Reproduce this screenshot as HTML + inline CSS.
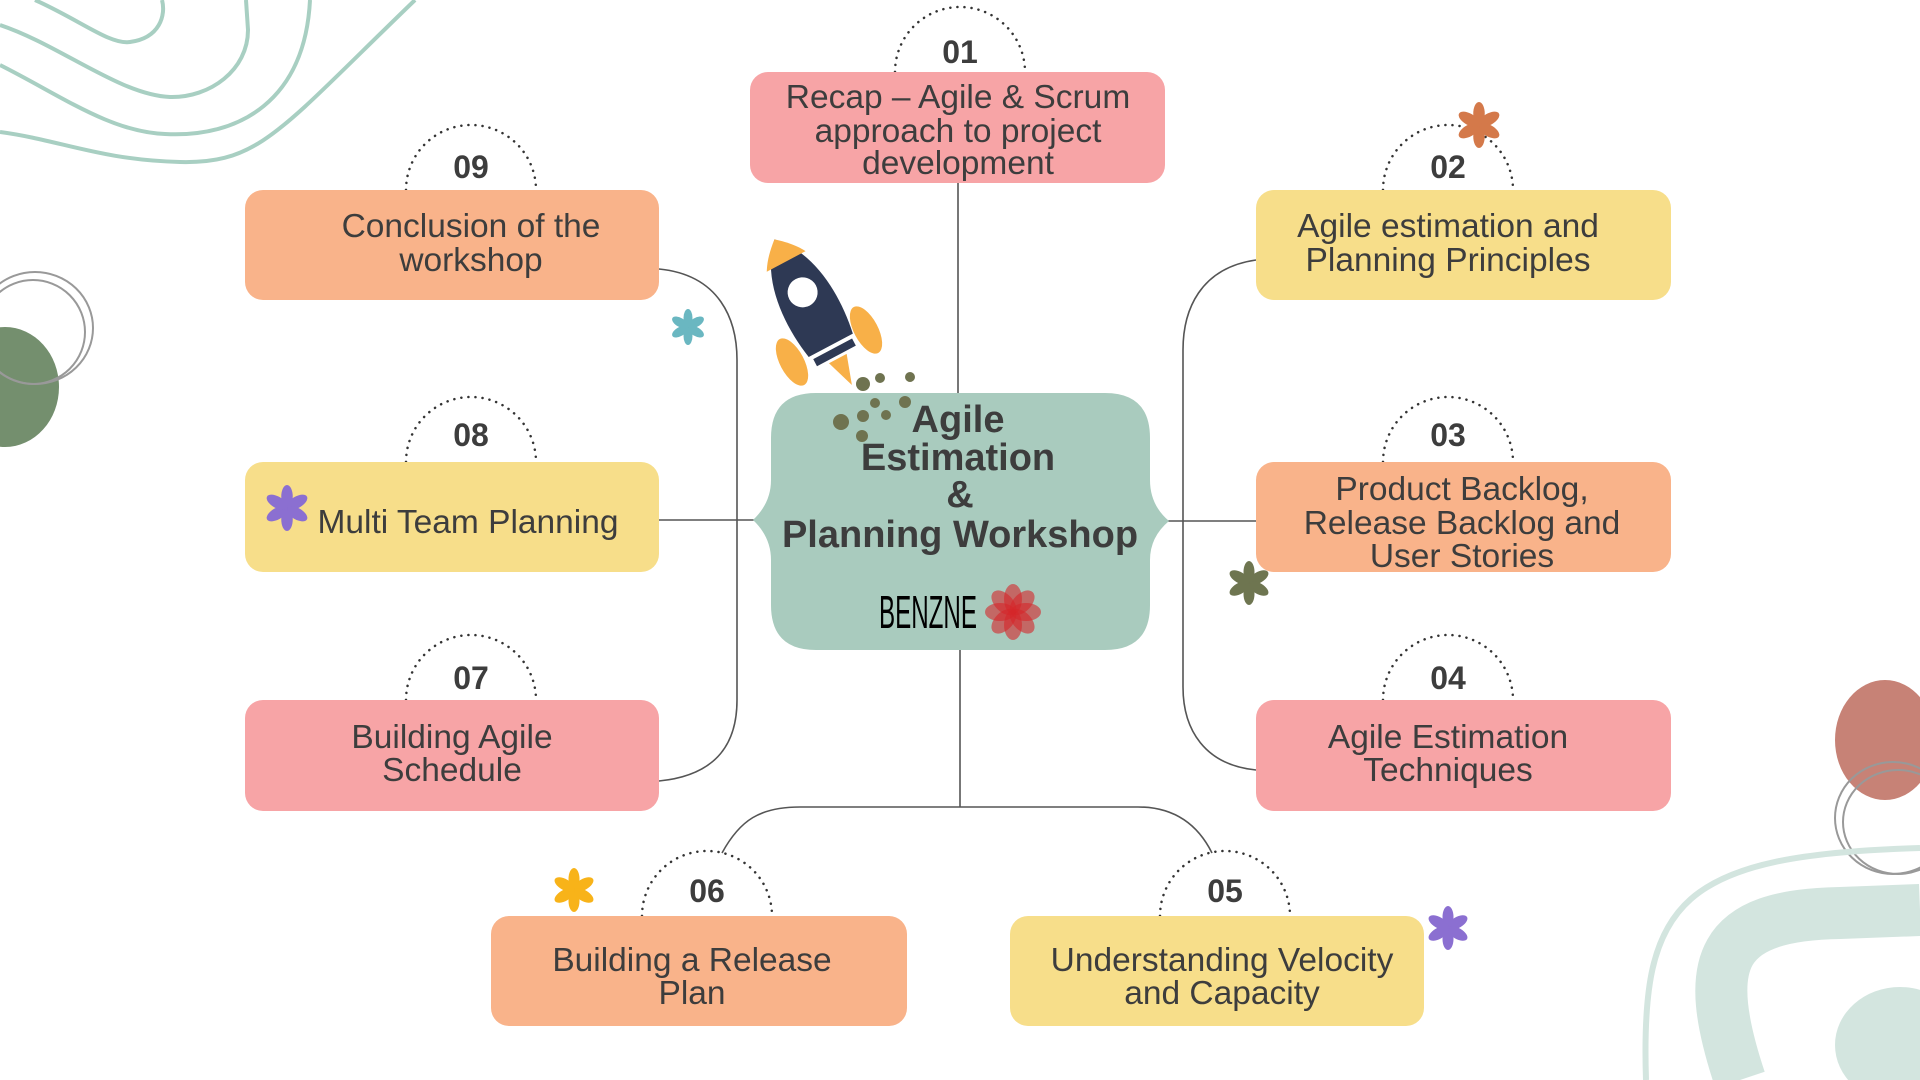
<!DOCTYPE html>
<html><head><meta charset="utf-8"><style>
html,body{margin:0;padding:0;background:#fff;}
svg{display:block;}
text{font-family:"Liberation Sans",sans-serif;fill:#3d3d3d;}
.t{font-size:33.5px;text-anchor:middle;}
.n{font-size:32px;font-weight:bold;text-anchor:middle;}
.c{font-size:38px;font-weight:bold;text-anchor:middle;}
</style></head><body>
<svg width="1920" height="1080" viewBox="0 0 1920 1080" xmlns="http://www.w3.org/2000/svg">
<defs>
<symbol id="fl" viewBox="-20 -20 40 40">
<g><ellipse cx="0" cy="-10" rx="5" ry="10"/><ellipse cx="0" cy="-10" rx="5" ry="10" transform="rotate(60)"/><ellipse cx="0" cy="-10" rx="5" ry="10" transform="rotate(120)"/><ellipse cx="0" cy="-10" rx="5" ry="10" transform="rotate(180)"/><ellipse cx="0" cy="-10" rx="5" ry="10" transform="rotate(240)"/><ellipse cx="0" cy="-10" rx="5" ry="10" transform="rotate(300)"/></g>
</symbol>
</defs>
<g fill="none" stroke="#a8cfc2" stroke-width="4">
<path d="M35 0 C80 20 110 45 130 42 C160 38 166 15 162 0"/>
<path d="M0 25 C60 45 120 95 170 97 C210 98 248 70 248 30 L246 0"/>
<path d="M0 65 C60 95 110 132 165 134 C240 138 305 100 310 0"/>
<path d="M0 132 C60 140 100 160 180 162 C260 164 280 130 415 0"/>
</g>
<ellipse cx="5" cy="387" rx="54" ry="60" fill="#748f6e"/>
<g fill="none" stroke="#999" stroke-width="2">
<ellipse cx="35" cy="328" rx="58" ry="56"/><ellipse cx="33" cy="332" rx="52" ry="52"/>
</g>
<ellipse cx="1885" cy="740" rx="50" ry="60" fill="#c78276"/>
<g fill="none" stroke="#999" stroke-width="2">
<ellipse cx="1893" cy="818" rx="58" ry="56"/><ellipse cx="1898" cy="822" rx="55" ry="52"/>
</g>
<path d="M1646 1080 C1640 900 1680 855 1920 848" fill="none" stroke="#d3e5df" stroke-width="6"/>
<path d="M1740 1080 C1700 960 1720 915 1840 913 L1920 910" fill="none" stroke="#d3e5df" stroke-width="52"/>
<ellipse cx="1900" cy="1045" rx="65" ry="58" fill="#d3e5df"/>

<g fill="none" stroke="#555" stroke-width="1.6">
<path d="M659 269 C720 275 737 320 737 360 V700 C737 740 720 775 659 781"/>
<path d="M659 520 H755"/>
<path d="M1256 260 C1200 268 1183 310 1183 350 V687 C1183 730 1205 765 1256 770"/>
<path d="M1167 521 H1256"/>
<path d="M958 182 V393"/>
<path d="M960 650 V807"/>
<path d="M722 853 C740 820 760 807 800 807 H1138 C1175 807 1198 825 1212 853"/>
</g>

<g fill="none" stroke="#333" stroke-width="2.5" stroke-dasharray="0.1 7" stroke-linecap="round">
<path d="M895 72 A65 65 0 0 1 1025 72"/>
<path d="M406 190 A65 65 0 0 1 536 190"/>
<path d="M1383 190 A65 65 0 0 1 1513 190"/>
<path d="M406 462 A65 65 0 0 1 536 462"/>
<path d="M1383 462 A65 65 0 0 1 1513 462"/>
<path d="M406 700 A65 65 0 0 1 536 700"/>
<path d="M1383 700 A65 65 0 0 1 1513 700"/>
<path d="M642 916 A65 65 0 0 1 772 916"/>
<path d="M1160 916 A65 65 0 0 1 1290 916"/>
</g>

<rect x="750" y="72" width="415" height="111" rx="18" fill="#f7a4a6"/>
<rect x="245" y="190" width="414" height="110" rx="18" fill="#f9b38a"/>
<rect x="1256" y="190" width="415" height="110" rx="18" fill="#f7de8a"/>
<rect x="245" y="462" width="414" height="110" rx="18" fill="#f7de8a"/>
<rect x="1256" y="462" width="415" height="110" rx="18" fill="#f9b38a"/>
<rect x="245" y="700" width="414" height="111" rx="18" fill="#f7a4a6"/>
<rect x="1256" y="700" width="415" height="111" rx="18" fill="#f7a4a6"/>
<rect x="491" y="916" width="416" height="110" rx="18" fill="#f9b38a"/>
<rect x="1010" y="916" width="414" height="110" rx="18" fill="#f7de8a"/>

<text class="n" x="960" y="63">01</text>
<text class="n" x="471" y="178">09</text>
<text class="n" x="1448" y="178">02</text>
<text class="n" x="471" y="446">08</text>
<text class="n" x="1448" y="446">03</text>
<text class="n" x="471" y="689">07</text>
<text class="n" x="1448" y="689">04</text>
<text class="n" x="707" y="902">06</text>
<text class="n" x="1225" y="902">05</text>

<text class="t" x="958" y="108">Recap – Agile &amp; Scrum</text>
<text class="t" x="958" y="142">approach to project</text>
<text class="t" x="958" y="174">development</text>
<text class="t" x="471" y="237">Conclusion of the</text>
<text class="t" x="471" y="271">workshop</text>
<text class="t" x="1448" y="237">Agile estimation and</text>
<text class="t" x="1448" y="271">Planning Principles</text>
<text class="t" x="468" y="533">Multi Team Planning</text>
<text class="t" x="1462" y="500">Product Backlog,</text>
<text class="t" x="1462" y="534">Release Backlog and</text>
<text class="t" x="1462" y="567">User Stories</text>
<text class="t" x="452" y="748">Building Agile</text>
<text class="t" x="452" y="781">Schedule</text>
<text class="t" x="1448" y="748">Agile Estimation</text>
<text class="t" x="1448" y="781">Techniques</text>
<text class="t" x="692" y="971">Building a Release</text>
<text class="t" x="692" y="1004">Plan</text>
<text class="t" x="1222" y="971">Understanding Velocity</text>
<text class="t" x="1222" y="1004">and Capacity</text>

<path d="M816 393 H1105 Q1150 393 1150 438 V480 Q1150 505 1169 521 Q1150 537 1150 560 V605 Q1150 650 1105 650 H816 Q771 650 771 605 V560 Q771 537 753 520 Q771 503 771 480 V438 Q771 393 816 393 Z" fill="#a9cbbe"/>
<text class="c" x="958" y="432">Agile</text>
<text class="c" x="958" y="470">Estimation</text>
<text class="c" x="960" y="507">&amp;</text>
<text class="c" x="960" y="547">Planning Workshop</text>
<text x="879" y="628" font-size="46" textLength="98" lengthAdjust="spacingAndGlyphs" style="fill:#000">BENZNE</text>
<g fill="#d6262a" fill-opacity="0.6" transform="translate(1013 612)">
<ellipse cx="0" cy="-13" rx="9" ry="15"/><ellipse cx="0" cy="-13" rx="9" ry="15" transform="rotate(45)"/><ellipse cx="0" cy="-13" rx="9" ry="15" transform="rotate(90)"/><ellipse cx="0" cy="-13" rx="9" ry="15" transform="rotate(135)"/><ellipse cx="0" cy="-13" rx="9" ry="15" transform="rotate(180)"/><ellipse cx="0" cy="-13" rx="9" ry="15" transform="rotate(225)"/><ellipse cx="0" cy="-13" rx="9" ry="15" transform="rotate(270)"/><ellipse cx="0" cy="-13" rx="9" ry="15" transform="rotate(315)"/>
</g>

<ellipse cx="792" cy="362" rx="12" ry="26" fill="#f8b048" transform="rotate(-28 792 362)"/>
<ellipse cx="866" cy="330" rx="12" ry="26" fill="#f8b048" transform="rotate(-28 866 330)"/>
<g transform="translate(812 310) rotate(-28)">
<path d="M0 -80 C30 -50 32 0 25 40 L-25 40 C-32 0 -30 -50 0 -80 Z" fill="#2e3954"/>
<path d="M0 -80 C12 -70 18 -62 22 -55 L-22 -55 C-18 -62 -12 -70 0 -80 Z" fill="#f8b048"/>
<circle cx="0" cy="-20" r="15" fill="#fff"/>
<rect x="-22" y="44" width="44" height="8" fill="#2e3954"/>
<path d="M-10 55 L0 85 L10 55 Z" fill="#f8b048"/>
</g>
<g fill="#6f7350">
<circle cx="841" cy="422" r="8"/><circle cx="863" cy="384" r="7"/><circle cx="875" cy="403" r="5"/><circle cx="880" cy="378" r="5"/><circle cx="910" cy="377" r="5"/><circle cx="886" cy="415" r="5"/><circle cx="905" cy="402" r="6"/><circle cx="863" cy="416" r="6"/><circle cx="862" cy="436" r="6"/>
</g>

<use href="#fl" x="1456" y="102" width="46" height="46" fill="#d4794a"/>
<use href="#fl" x="670" y="309" width="36" height="36" fill="#6ab7c1"/>
<use href="#fl" x="264" y="485" width="46" height="46" fill="#8b6fd1"/>
<use href="#fl" x="1227" y="561" width="44" height="44" fill="#6e7550"/>
<use href="#fl" x="552" y="868" width="44" height="44" fill="#f8b319"/>
<use href="#fl" x="1426" y="906" width="44" height="44" fill="#8b6fd1"/>
</svg>
</body></html>
